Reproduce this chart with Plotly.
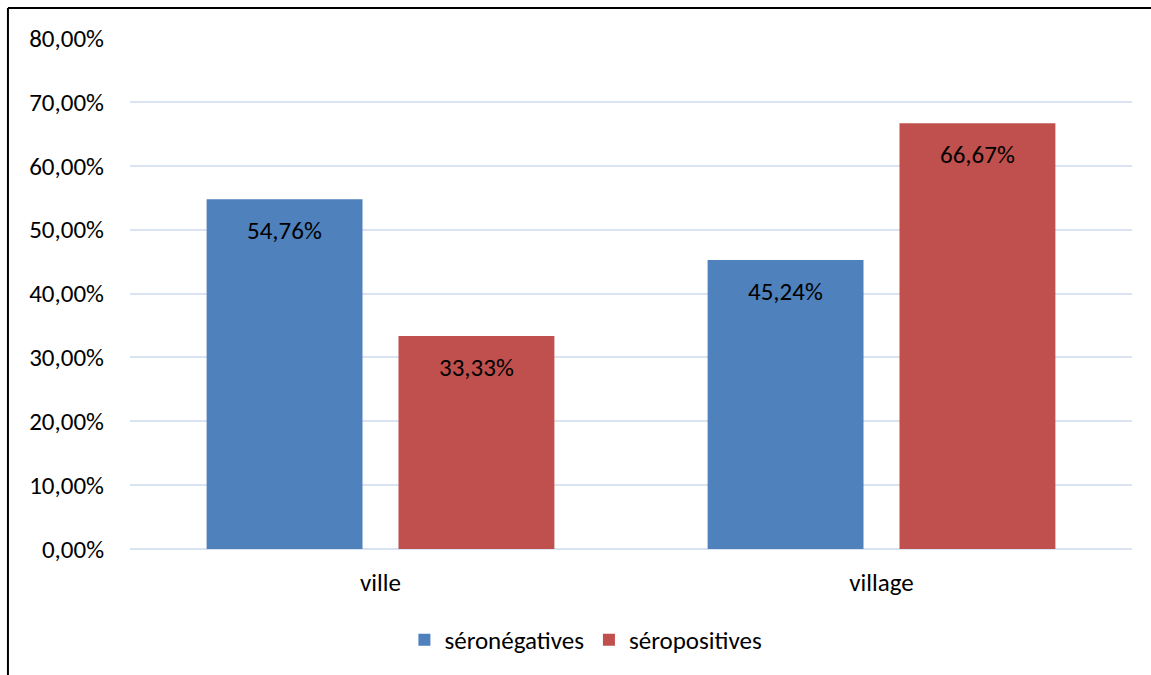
import plotly.graph_objects as go

# Share of women by place of residence and serostatus (%)
categories = ["ville", "village"]
series_names = ["séronégatives", "séropositives"]
seronegatives = [54.76, 45.24]
seropositives = [33.33, 66.67]
series_values = [seronegatives, seropositives]
series_colors = ["#4F81BD", "#C0504D"]
y_ticks = [0, 10, 20, 30, 40, 50, 60, 70, 80]


def pct(v):
    return f"{v:.2f}".replace(".", ",") + "%"


FONT = "Calibri, Carlito, Lato, sans-serif"
FS = 25
BARGAP = 0.234
BARGROUPGAP = 0.1875

fig = go.Figure()
for name, vals, col in zip(series_names, series_values, series_colors):
    fig.add_trace(go.Bar(
        name=name, x=categories, y=vals,
        marker=dict(color=col, line=dict(width=0)),
        hoverinfo="skip",
    ))

# value labels placed inside each bar, just below its top
slot = (1 - BARGAP) / len(series_names)
for s, vals in enumerate(series_values):
    offset = (s - (len(series_names) - 1) / 2) * slot
    for i, v in enumerate(vals):
        fig.add_annotation(
            x=i + offset, y=v, xref="x", yref="y",
            text=pct(v),
            showarrow=False, yanchor="top", yshift=-14,
            font=dict(family=FONT, size=FS, color="#000000"),
        )

# chart frame (left and top edges)
fx = -0.1218
fy = 1.0587
fig.add_shape(type="line", xref="paper", yref="paper", x0=fx, x1=fx, y0=-0.5, y1=fy,
              line=dict(color="#000000", width=2))
fig.add_shape(type="line", xref="paper", yref="paper", x0=fx, x1=1.2, y0=fy, y1=fy,
              line=dict(color="#000000", width=2))

fig.update_layout(
    width=1151, height=675,
    margin=dict(l=130, r=19, t=38, b=126),
    paper_bgcolor="#FFFFFF", plot_bgcolor="#FFFFFF",
    barmode="group", bargap=BARGAP, bargroupgap=BARGROUPGAP,
    font=dict(family=FONT, size=FS, color="#000000"),
    showlegend=True,
    legend=dict(orientation="h", x=0.455, xanchor="center", y=-0.178, yanchor="middle",
                font=dict(family=FONT, size=FS, color="#000000"),
                itemclick=False, itemdoubleclick=False),
    xaxis=dict(showgrid=False, showline=False, ticks="", ticklabelstandoff=16,
               tickfont=dict(family=FONT, size=FS, color="#000000")),
    yaxis=dict(range=[0, 80], tickmode="array", tickvals=y_ticks,
               ticktext=[pct(t) for t in y_ticks],
               showgrid=True, gridcolor="#D9E3F1", gridwidth=1.5,
               zeroline=True, zerolinecolor="#D9E3F1", zerolinewidth=1.5,
               showline=False, ticks="", ticklabelstandoff=25,
               tickfont=dict(family=FONT, size=FS, color="#000000")),
)

fig.write_html("out.html")
